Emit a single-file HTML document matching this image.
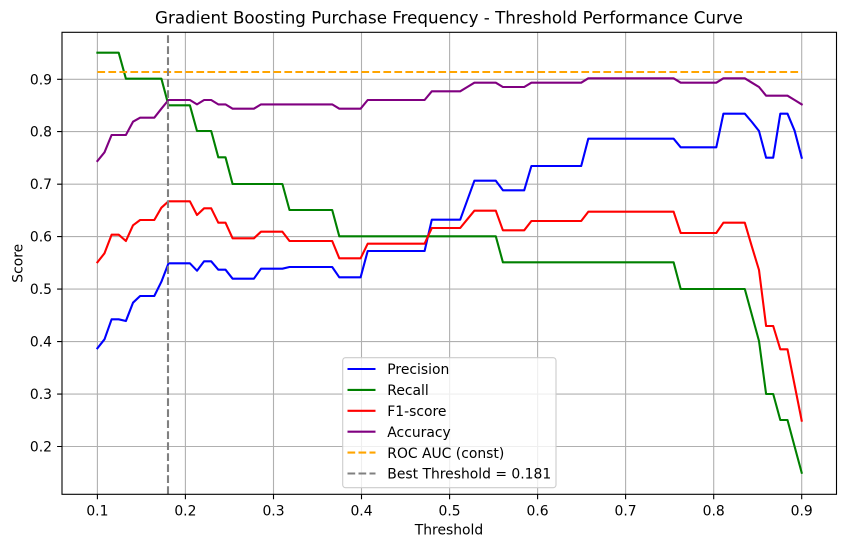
<!DOCTYPE html>
<html>
<head>
<meta charset="utf-8">
<style>
html,body{margin:0;padding:0;background:#fff;}
svg{display:block;}
text{font-family:"DejaVu Sans","Liberation Sans",sans-serif;fill:#000;}
</style>
</head>
<body>
<svg width="846" height="547" viewBox="0 0 846 547" xmlns="http://www.w3.org/2000/svg">
<rect x="0" y="0" width="846" height="547" fill="#fff"/>
<!-- grid -->
<g stroke="#b0b0b0" stroke-width="1.1" fill="none">
<path d="M97.4 32V494M185.4 32V494M273.5 32V494M361.5 32V494M449.6 32V494M537.6 32V494M625.6 32V494M713.7 32V494M801.7 32V494"/>
<path d="M62 79.3H836.5M62 131.6H836.5M62 184.2H836.5M62 236.6H836.5M62 289.1H836.5M62 341.6H836.5M62 394.1H836.5M62 446.5H836.5"/>
</g>
<!-- series -->
<g fill="none" stroke-width="2.1" stroke-linejoin="round" stroke-linecap="square">
<polyline stroke="#0000ff" points="97.4,348.3 104.5,339.3 111.6,319.3 118.7,319.3 125.9,321 133.0,302.7 140.1,296 154.3,296 161.4,281.7 168.5,263.3 189.9,263.3 197.0,270.7 204.1,261.3 211.2,261.3 218.3,269.7 225.5,269.7 232.6,278.7 253.9,278.7 261.0,268.7 282.4,268.7 289.5,267 332.2,267 339.3,277.3 360.6,277.3 367.7,251 424.6,251 431.8,219.7 460.2,219.7 467.3,200.2 474.4,180.7 495.8,180.7 502.9,190.3 524.2,190.3 531.4,166 581.2,166 588.3,138.7 673.6,138.7 680.7,147.3 716.3,147.3 723.4,113.7 744.8,113.7 751.9,122 759.0,131 766.1,157.7 773.2,157.7 780.3,113.7 787.5,113.7 794.6,130.7 801.7,157.7"/>
<polyline stroke="#008000" points="97.4,52.7 118.7,52.7 125.9,78.7 161.4,78.7 168.5,105.3 189.9,105.3 197.0,131 211.2,131 218.3,157.3 225.5,157.3 232.6,184 282.4,184 289.5,210 332.2,210 339.3,236.3 495.8,236.3 502.9,262.3 673.6,262.3 680.7,289 744.8,289 751.9,315 759.0,341 766.1,394 773.2,394 780.3,420 787.5,420 794.6,446.5 801.7,472.7"/>
<polyline stroke="#ff0000" points="97.4,262.3 104.5,253.3 111.6,234.7 118.7,234.7 125.9,241 133.0,225.3 140.1,220 154.3,220 161.4,207.7 168.5,201.3 189.9,201.3 197.0,215 204.1,208.3 211.2,208.3 218.3,222.7 225.5,222.7 232.6,238.3 253.9,238.3 261.0,231.7 282.4,231.7 289.5,241 332.2,241 339.3,258.3 360.6,258.3 367.7,243.7 424.6,243.7 431.8,228 460.2,228 467.3,219.3 474.4,210.7 495.8,210.7 502.9,230.3 524.2,230.3 531.4,221 581.2,221 588.3,211.7 673.6,211.7 680.7,233 716.3,233 723.4,222.7 744.8,222.7 751.9,246.7 759.0,270 766.1,326 773.2,326 780.3,349.3 787.5,349.3 794.6,385 801.7,420.7"/>
<polyline stroke="#800080" points="97.4,161 104.5,152.3 111.6,135 125.9,135 133.0,121.7 140.1,117.7 154.3,117.7 161.4,108.7 168.5,100 189.9,100 197.0,104.4 204.1,100 211.2,100 218.3,104.4 225.5,104.4 232.6,108.7 253.9,108.7 261.0,104.4 332.2,104.4 339.3,108.7 360.6,108.7 367.7,100 424.6,100 431.8,91.3 460.2,91.3 467.3,87 474.4,82.7 495.8,82.7 502.9,87 524.2,87 531.4,82.7 581.2,82.7 588.3,78.3 673.6,78.3 680.7,82.7 716.3,82.7 723.4,78.3 744.8,78.3 751.9,82.7 759.0,87 766.1,95.7 787.5,95.7 794.6,100 801.7,104.4"/>
</g>
<path d="M97.4 72H801.7" stroke="#ffa500" stroke-width="2.1" stroke-dasharray="7.7 3.3" fill="none"/>
<path d="M168 494V32" stroke="#808080" stroke-width="2.1" stroke-dasharray="7.7 3.3" fill="none"/>
<!-- spines -->
<rect x="62" y="32.3" width="774.5" height="462" fill="none" stroke="#000" stroke-width="1.1"/>
<!-- ticks -->
<g stroke="#000" stroke-width="1.1">
<path d="M97.4 494.3v4.9M185.4 494.3v4.9M273.5 494.3v4.9M361.5 494.3v4.9M449.6 494.3v4.9M537.6 494.3v4.9M625.6 494.3v4.9M713.7 494.3v4.9M801.7 494.3v4.9"/>
<path d="M62 79.3h-4.9M62 131.6h-4.9M62 184.2h-4.9M62 236.6h-4.9M62 289.1h-4.9M62 341.6h-4.9M62 394.1h-4.9M62 446.5h-4.9"/>
</g>
<g font-size="13.9" text-anchor="middle">
<text x="97.4" y="515.7">0.1</text>
<text x="185.4" y="515.7">0.2</text>
<text x="273.5" y="515.7">0.3</text>
<text x="361.5" y="515.7">0.4</text>
<text x="449.6" y="515.7">0.5</text>
<text x="537.6" y="515.7">0.6</text>
<text x="625.6" y="515.7">0.7</text>
<text x="713.7" y="515.7">0.8</text>
<text x="801.7" y="515.7">0.9</text>
</g>
<g font-size="13.9" text-anchor="end">
<text x="52" y="84.3">0.9</text>
<text x="52" y="136.6">0.8</text>
<text x="52" y="189.2">0.7</text>
<text x="52" y="241.6">0.6</text>
<text x="52" y="294.1">0.5</text>
<text x="52" y="346.6">0.4</text>
<text x="52" y="399.1">0.3</text>
<text x="52" y="451.5">0.2</text>
</g>
<text x="449" y="534.3" font-size="13.9" text-anchor="middle">Threshold</text>
<text transform="translate(22.7,263.3) rotate(-90)" x="0" y="0" font-size="13.9" text-anchor="middle">Score</text>
<text x="449" y="23.3" font-size="16.7" text-anchor="middle">Gradient Boosting Purchase Frequency - Threshold Performance Curve</text>
<!-- legend -->
<rect x="342.7" y="357.7" width="213.3" height="130" rx="2.8" ry="2.8" fill="#fff" fill-opacity="0.8" stroke="#cccccc" stroke-width="1.1"/>
<g stroke-width="2.1" fill="none">
<path d="M347.5 369H375.5" stroke="#0000ff"/>
<path d="M347.5 389.9H375.5" stroke="#008000"/>
<path d="M347.5 410.8H375.5" stroke="#ff0000"/>
<path d="M347.5 431.7H375.5" stroke="#800080"/>
<path d="M347.5 452.6H375.5" stroke="#ffa500" stroke-dasharray="7.7 3.3"/>
<path d="M347.5 473.5H375.5" stroke="#808080" stroke-dasharray="7.7 3.3"/>
</g>
<g font-size="13.9">
<text x="387.3" y="374.2">Precision</text>
<text x="387.3" y="395.1">Recall</text>
<text x="387.3" y="416">F1-score</text>
<text x="387.3" y="436.9">Accuracy</text>
<text x="387.3" y="457.8">ROC AUC (const)</text>
<text x="387.3" y="478.7">Best Threshold = 0.181</text>
</g>
</svg>
</body>
</html>
